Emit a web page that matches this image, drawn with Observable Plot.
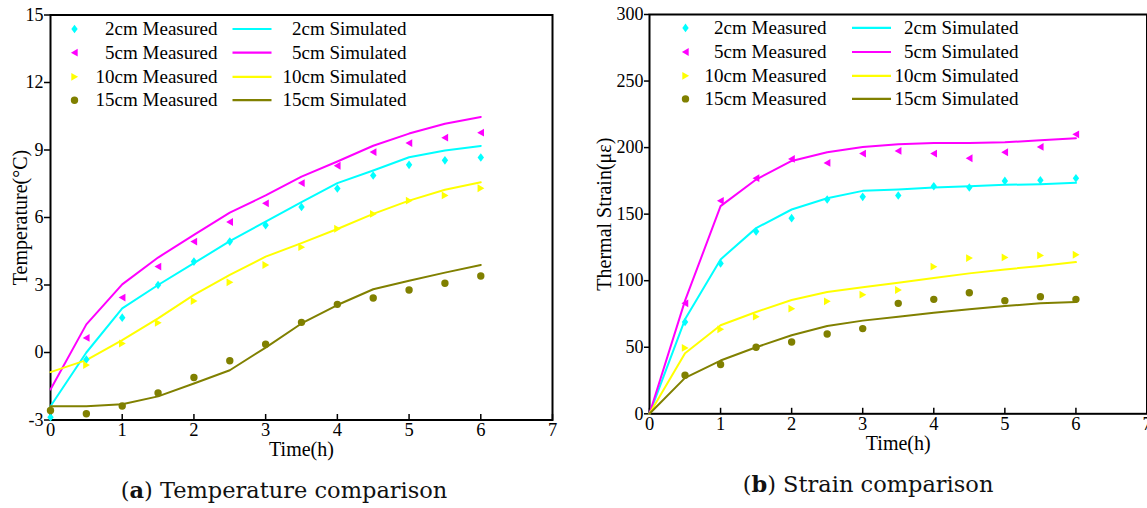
<!DOCTYPE html>
<html><head><meta charset="utf-8">
<script src="https://cdn.jsdelivr.net/npm/d3@7"></script>
<script src="https://cdn.jsdelivr.net/npm/@observablehq/plot@0.6"></script>
<style>
body{margin:0;background:#fff;width:1147px;height:508px;position:relative;overflow:hidden}
#a,#b{position:absolute;top:0}
#a{left:0px} #b{left:580px}
.cap{position:absolute;font-family:"DejaVu Serif",serif;font-size:22.5px;white-space:nowrap;transform:translate(-50%,-50%);color:#111}
</style></head><body>
<div id="a"></div><div id="b"></div>
<div class="cap" style="left:284px;top:490px">(<b>a</b>) Temperature comparison</div>
<div class="cap" style="left:868px;top:484px">(<b>b</b>) Strain comparison</div>
<script>
// ---- data ----
const time = [0, 0.5, 1, 1.5, 2, 2.5, 3, 3.5, 4, 4.5, 5, 5.5, 6];
const depths = ["2cm", "5cm", "10cm", "15cm"];
const colors = ["#00FFFF", "#FF00FF", "#FFFF00", "#808000"];
const xTicks = [0, 1, 2, 3, 4, 5, 6, 7];
const tempTicks = [-3, 0, 3, 6, 9, 12, 15];
const strainTicks = [0, 50, 100, 150, 200, 250, 300];

// Temperature (°C)
const tempMeas2  = [-2.88, -0.31, 1.55, 3.0, 4.04, 4.93, 5.66, 6.47, 7.29, 7.87, 8.34, 8.54, 8.67];
const tempSim2   = [-2.39, 0.0, 1.96, 3.0, 3.97, 4.95, 5.82, 6.68, 7.53, 8.09, 8.68, 8.98, 9.18];
const tempMeas5  = [null, 0.65, 2.44, 3.82, 4.93, 5.8, 6.63, 7.53, 8.3, 8.91, 9.31, 9.55, 9.77];
const tempSim5   = [-1.64, 1.25, 3.03, 4.22, 5.23, 6.22, 6.98, 7.82, 8.49, 9.19, 9.73, 10.17, 10.47];
const tempMeas10 = [null, -0.56, 0.4, 1.32, 2.29, 3.12, 3.89, 4.68, 5.5, 6.16, 6.75, 6.98, 7.3];
const tempSim10  = [-0.87, -0.34, 0.55, 1.52, 2.56, 3.45, 4.26, 4.86, 5.49, 6.16, 6.75, 7.23, 7.57];
const tempMeas15 = [-2.58, -2.72, -2.38, -1.8, -1.11, -0.37, 0.37, 1.34, 2.14, 2.42, 2.78, 3.08, 3.4];
const tempSim15  = [-2.39, -2.39, -2.3, -1.95, -1.38, -0.79, 0.22, 1.29, 2.11, 2.81, 3.19, 3.55, 3.89];

// Thermal strain (με)
const strainMeas2  = [null, 69, 113, 137, 147, 161, 163, 164, 171, 170, 175, 175.5, 177];
const strainSim2   = [0, 71, 116, 139.5, 153.5, 162, 167.5, 168.5, 170, 171, 172, 172.5, 173.5];
const strainMeas5  = [null, 83, 160, 177, 191.5, 188.5, 195.5, 197.5, 195.5, 192, 196.5, 200.5, 210];
const strainSim5   = [0, 85, 156, 176, 190, 196.5, 200.5, 202.5, 203.5, 203.5, 204, 205.5, 207];
const strainMeas10 = [null, 49.5, 63.5, 73, 79, 84.5, 89.5, 93, 110.5, 117, 117.5, 119, 119.5];
const strainSim10  = [0, 45.5, 66.5, 76.5, 85.5, 91.5, 95, 98.5, 102, 105.5, 108.5, 111, 114];
const strainMeas15 = [null, 29, 37, 50, 54, 60, 64, 83, 86, 91, 85, 88, 86];
const strainSim15  = [0, 27, 40, 50, 59, 66, 70, 73, 76, 78.5, 81, 83, 84];

// ---- symbols ----
const diamond = {draw(c){c.moveTo(0,-4.3);c.lineTo(3.2,0);c.lineTo(0,4.3);c.lineTo(-3.2,0);c.closePath();}};
const triLeft = {draw(c){c.moveTo(-3.6,0);c.lineTo(3.2,-3.9);c.lineTo(3.2,3.9);c.closePath();}};
const triRight = {draw(c){c.moveTo(3.6,0);c.lineTo(-3.2,-3.9);c.lineTo(-3.2,3.9);c.closePath();}};
const circle = {draw(c){c.moveTo(3.7,0);c.arc(0,0,3.7,0,2*Math.PI);}};
const tickUp = {draw(c){c.moveTo(0,0);c.lineTo(0,-6);}};
const hline = {draw(c){c.moveTo(-19.5,0);c.lineTo(19.5,0);}};
const syms = [diamond, triLeft, triRight, circle];
const FONT = "'Liberation Serif', 'Times New Roman', serif";

function rows(arrs) {
  const out = [];
  arrs.forEach((arr, i) => arr.forEach((v, j) => { if (v != null) out.push({t: time[j], v, depth: depths[i]}); }));
  return out;
}

function panel(cfg) {
  const meas = rows(cfg.meas), sim = rows(cfg.sim);
  const marks = [
    Plot.frame({stroke: "black", strokeWidth: 2}),
    Plot.axisY({ticks: cfg.yTicks, tickSize: cfg.tickSize, tickPadding: 1, label: null,
      tickFormat: d => String(d), strokeWidth: 1.5, fontSize: 18, fontFamily: FONT}),
    Plot.axisX({ticks: xTicks, tickSize: 0, tickPadding: 3, label: null,
      tickFormat: d => String(d), fontSize: 18.5, fontFamily: FONT}),
    Plot.text([cfg.yLabel], {text: s => s, frameAnchor: "left", dx: cfg.yLabelDx, rotate: -90,
      textAnchor: "middle", lineAnchor: "middle", fontSize: 20, fontFamily: FONT, fill: "black"}),
    Plot.text(["Time(h)"], {text: s => s, frameAnchor: "bottom", dy: cfg.xLabelDy,
      textAnchor: "middle", lineAnchor: "middle", fontSize: 20, fontFamily: FONT, fill: "black"}),
    Plot.dot(xTicks, {x: d => d, y: cfg.yTicks[0], symbol: tickUp, stroke: "black", strokeWidth: 1.5}),
    Plot.line(sim, {x: "t", y: "v", z: "depth", stroke: "depth", strokeWidth: 2})
  ];
  depths.forEach((d, i) => {
    marks.push(Plot.dot(meas.filter(r => r.depth === d), {x: "t", y: "v", symbol: syms[i], fill: colors[i], stroke: "none"}));
  });
  const L = cfg.legend;
  depths.forEach((d, i) => {
    marks.push(
      Plot.dot([d], {frameAnchor: "top-left", dx: L.mx, dy: L.rows[i], symbol: syms[i], fill: colors[i], stroke: "none"}),
      Plot.text([d + " Measured"], {text: s => s, frameAnchor: "top-left", dx: L.mt, dy: L.rows[i], textAnchor: "end", lineAnchor: "middle", fontSize: 19, fontFamily: FONT}),
      Plot.dot([d], {frameAnchor: "top-left", dx: L.lc, dy: L.rows[i], symbol: hline, stroke: colors[i], strokeWidth: 2.2}),
      Plot.text([d + " Simulated"], {text: s => s, frameAnchor: "top-left", dx: L.st, dy: L.rows[i], textAnchor: "end", lineAnchor: "middle", fontSize: 19, fontFamily: FONT})
    );
  });
  return Plot.plot({
    width: cfg.width, height: cfg.height,
    marginLeft: cfg.ml, marginRight: cfg.mr, marginTop: cfg.mt, marginBottom: cfg.mb,
    style: {fontFamily: FONT, fontSize: "18px", color: "black", background: "transparent", overflow: "visible"},
    x: {domain: [0, 7]},
    y: {domain: cfg.yDomain},
    color: {domain: depths, range: colors},
    marks
  });
}

document.getElementById("a").append(panel({
  width: 570, height: 470, ml: 50, mr: 18, mt: 14.5, mb: 50.5,
  yDomain: [-3, 15], yTicks: tempTicks, yLabel: "Temperature(°C)", yLabelDx: -30, xLabelDy: 30, tickSize: 6,
  meas: [tempMeas2, tempMeas5, tempMeas10, tempMeas15],
  sim: [tempSim2, tempSim5, tempSim10, tempSim15],
  legend: {mx: 24, mt: 167, lc: 201.5, st: 356, rows: [14, 37.7, 61.8, 85.2]}
}));
document.getElementById("b").append(panel({
  width: 567, height: 460, ml: 69, mr: 0.5, mt: 14, mb: 46.7,
  yDomain: [0, 300], yTicks: strainTicks, yLabel: "Thermal Strain(με)", yLabelDx: -45, xLabelDy: 30, tickSize: 5,
  meas: [strainMeas2, strainMeas5, strainMeas10, strainMeas15],
  sim: [strainSim2, strainSim5, strainSim10, strainSim15],
  legend: {mx: 36, mt: 177, lc: 222, st: 369, rows: [13.4, 37.5, 61.3, 84.4]}
}));
</script>
</body></html>
